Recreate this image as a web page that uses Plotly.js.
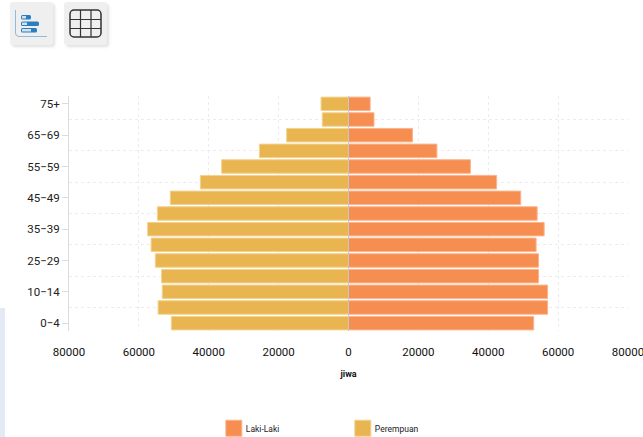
<!DOCTYPE html>
<html>
<head>
<meta charset="utf-8">
<script src="https://cdn.plot.ly/plotly-3.0.1.min.js"></script>
<style>
html,body{margin:0;padding:0;background:#fff;width:643px;height:437px;overflow:hidden}
#chart{position:absolute;left:0;top:0;width:643px;height:437px}
.btn{position:absolute;top:2px;width:43px;height:43px;background:#efefef;border-radius:3px;box-shadow:2px 2px 3px rgba(0,0,0,.12)}
#strip{position:absolute;left:0;top:308px;width:5px;height:129px;background:#e4eaf3}
</style>
</head>
<body>
<div id="chart"></div>
<div id="strip"></div>
<div class="btn" style="left:10px">
<svg width="43" height="43"><path d="M5.5 8V31Q5.5 34.5 9 34.5H37" fill="none" stroke="#8fbbdd" stroke-width="1"/>
<rect x="11" y="13" width="10" height="4.5" rx="1.5" fill="#2b7fc0"/><rect x="11" y="19.5" width="18" height="4.5" rx="1.5" fill="#2b7fc0"/><rect x="11" y="26" width="16" height="4.5" rx="1.5" fill="#2b7fc0"/>
<rect x="12" y="14" width="4" height="2.5" fill="#cfe2f1"/><rect x="12" y="20.5" width="5" height="2.5" fill="#cfe2f1"/><rect x="12" y="27" width="9" height="2.5" fill="#cfe2f1"/></svg>
</div>
<div class="btn" style="left:64px">
<svg width="43" height="43"><rect x="6" y="8" width="31" height="27" rx="4" fill="none" stroke="#333" stroke-width="1.5"/>
<path d="M16.5 8V35M27 8V35M6 17.5H37M6 26.5H37" stroke="#333" stroke-width="1.2"/></svg>
</div>
<script>
var ageGroups = ['0−4','5−9','10−14','15−19','25−29','30−34','35−39','40−44','45−49','50−54','55−59','60−64','65−69','70−74','75+'];
var shownAges = ['0−4','10−14','25−29','35−39','45−49','55−59','65−69','75+'];
var lakiLaki = [53000,57000,57000,54400,54400,53700,56000,54000,49300,42400,34900,25300,18300,7300,6200];
var perempuan = [50700,54500,53300,53500,55300,56500,57500,54700,51000,42400,36300,25500,17700,7500,7850];
var xTicks = [-80000,-60000,-40000,-20000,0,20000,40000,60000,80000];
var xLabels = ['80000','60000','40000','20000','0','20000','40000','60000','80000'];

var rows = ageGroups.map(function(_,i){return i;});
var shownRows = shownAges.map(function(a){return ageGroups.indexOf(a);});
var gridRows = rows.filter(function(r){return shownRows.indexOf(r)<0;});

var font = 'Roboto, sans-serif';
var traces = [
 {type:'bar',orientation:'h',name:'Laki-Laki',y:rows,x:lakiLaki,
  marker:{color:'#f68e51',line:{color:'#fbb48c',width:1}},hoverinfo:'x+y'},
 {type:'bar',orientation:'h',name:'Perempuan',y:rows,x:perempuan.map(function(v){return -v;}),
  marker:{color:'#e8b551',line:{color:'#f2d28f',width:1}},hoverinfo:'x+y'}
];
var layout = {
 width:643,height:437,
 margin:{l:68.5,r:14.5,t:96,b:106,pad:0,autoexpand:false},
 paper_bgcolor:'rgba(0,0,0,0)',plot_bgcolor:'rgba(0,0,0,0)',
 barmode:'overlay',bargap:0.14,
 font:{family:font,color:'#222',size:11},
 xaxis:{range:[-80000,80000],tickmode:'array',tickvals:xTicks,ticktext:xLabels,
  showgrid:true,gridcolor:'#ececec',griddash:'3px,3px',gridwidth:1,
  zeroline:false,showline:false,
  ticks:'outside',ticklen:10,tickcolor:'rgba(0,0,0,0)',ticklabeloverflow:'allow',
  tickfont:{family:font,size:11.5,color:'#111'},
  title:{text:'jiwa',font:{family:font,size:9,color:'#111',weight:'bold'},standoff:12}},
 yaxis:{range:[-0.5,14.5],tickmode:'array',tickvals:shownRows,ticktext:shownAges,
  showgrid:false,zeroline:false,showline:true,linecolor:'#dcdcdc',linewidth:1,
  ticks:'outside',ticklen:6,tickcolor:'#dcdcdc',
  tickfont:{family:font,size:11.5,color:'#222'},
  minor:{tickmode:'array',tickvals:gridRows,showgrid:true,gridcolor:'#ececec',griddash:'3px,3px',gridwidth:1,ticks:''}},
 shapes:[{type:'line',xref:'x',yref:'paper',x0:0,x1:0,y0:0,y1:1,layer:'above',line:{color:'#c8c8c8',width:1}}],
 showlegend:true,
 legend:{orientation:'h',x:0.2448,xanchor:'left',y:-0.352,yanchor:'top',traceorder:'normal',
  entrywidth:84,entrywidthmode:'pixels',font:{family:font,size:8.5,color:'#222'},bgcolor:'rgba(0,0,0,0)'}
};
Plotly.newPlot('chart',traces,layout,{displayModeBar:false}).then(function(gd){
 document.querySelectorAll('.legendpoints path').forEach(function(p){
   p.setAttribute('d','M0,-8H16V8H0Z');
 });
});
</script>
</body>
</html>
